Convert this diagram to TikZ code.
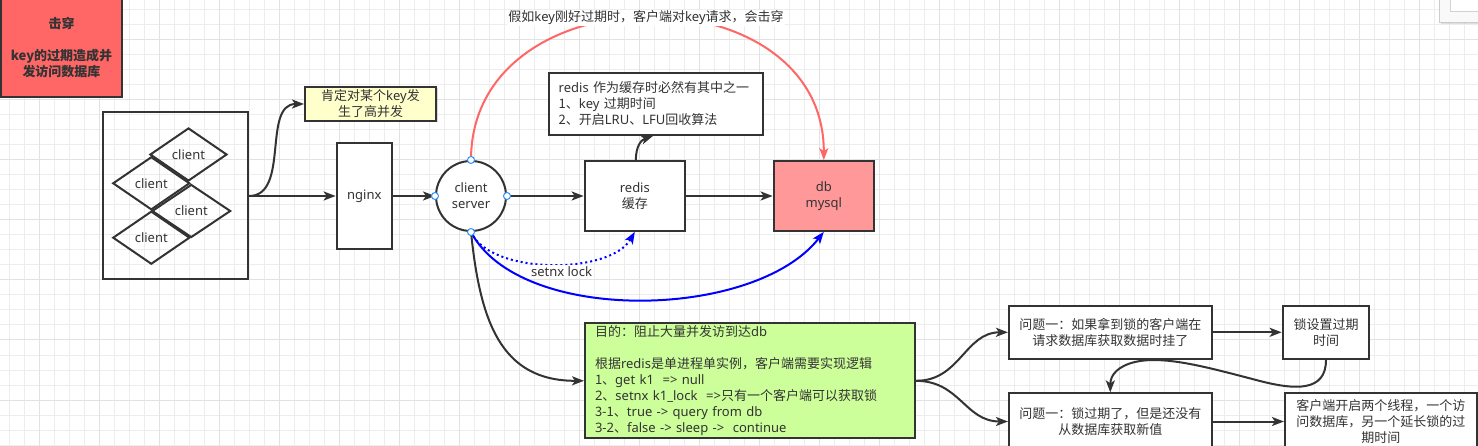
\documentclass[tikz,border=0pt]{standalone}
\usepackage{fontspec}
\setmainfont{Noto Sans}
\newfontfamily\cjkf{Noto Sans CJK SC}
\XeTeXinterchartokenstate=1
\newXeTeXintercharclass\cjkcls
\count255="3000
\loop
  \XeTeXcharclass\count255=\cjkcls
  \advance\count255 by 1
\ifnum\count255<"A000 \repeat
\count255="FF00
\loop
  \XeTeXcharclass\count255=\cjkcls
  \advance\count255 by 1
\ifnum\count255<"FFF0 \repeat
\XeTeXinterchartoks 0 \cjkcls = {\cjkf}
\XeTeXinterchartoks 4095 \cjkcls = {\cjkf}
\XeTeXinterchartoks \cjkcls 0 = {\rmfamily}
\usetikzlibrary{arrows.meta,shapes.geometric,shadows}
\definecolor{linec}{HTML}{333333}
\definecolor{redf}{HTML}{FF6666}
\definecolor{dbf}{HTML}{FF9999}
\definecolor{notef}{HTML}{FFFFCC}
\definecolor{greenf}{HTML}{CCFF99}
\definecolor{redl}{HTML}{FF6666}
\definecolor{bluel}{HTML}{0000FF}
\definecolor{gridminor}{HTML}{EDEDED}
\definecolor{gridmajor}{HTML}{E2E2E2}
\definecolor{mkc}{HTML}{2F8FFF}
\newcommand\myfs{\fontsize{13pt}{16pt}\selectfont}
\newcommand\titlefont{\fontsize{13pt}{16pt}\selectfont\bfseries\cjkf\XeTeXinterchartokenstate=0 }
\begin{document}
\begin{tikzpicture}[x=1pt,y=-1pt,
  ln/.style={draw=linec,line width=2pt},
  tipa/.style={-{Stealth[length=12pt,width=9pt,inset=3pt]}},
  arr/.style={ln,tipa},
  boxn/.style={ln,fill=white,text=linec,font=\myfs,align=center,inner sep=0pt},
  dia/.style={diamond,ln,text=linec,font=\myfs,minimum width=77pt,minimum height=53pt,inner sep=0pt},
  lbl/.style={fill=white,text=linec,font=\myfs,inner sep=1pt},
  mk/.style={circle,draw=mkc,line width=1pt,fill=white,minimum size=7pt,inner sep=0pt}
]
\useasboundingbox (0,0) rectangle (1478,446);
\fill[white] (0,0) rectangle (1478,446);
% grid
\foreach \i in {0,...,98} {\draw[gridminor,line width=1pt] (9.3+15*\i,0) -- (9.3+15*\i,446);}
\foreach \j in {0,...,29} {\draw[gridminor,line width=1pt] (0,10+15*\j) -- (1478,10+15*\j);}
\foreach \i in {0,...,23} {\draw[gridmajor,line width=1pt] (39.3+60*\i,0) -- (39.3+60*\i,446);}
\foreach \j in {0,...,6} {\draw[gridmajor,line width=1pt] (0,40+60*\j) -- (1478,40+60*\j);}

% UI panel top right
\draw[draw=gray!40,fill=gray!5,drop shadow={shadow xshift=1pt,shadow yshift=-2pt,opacity=0.25}] (1439.5,-10) rectangle (1490,22.5);
\draw[draw=gray!35,fill=white] (1450,-10) rectangle (1490,11.7);

% title box
\node[boxn,fill=redf,minimum width=121pt,minimum height=100pt,font=\titlefont] (title) at (61.5,47.5) {击穿\\[16pt]key的过期造成并\\发访问数据库};

% note
\node[boxn,fill=notef,minimum width=131pt,minimum height=34pt,drop shadow={shadow xshift=1.5pt,shadow yshift=-1.5pt,opacity=0.3}] (n1) at (370.5,104) {肯定对某个key发\\生了高并发};

% clients box
\node[ln,minimum width=145pt,minimum height=167pt,inner sep=0pt] (cl) at (175.5,196) {};
\node[dia] (c1) at (188.5,154.5) {client};
\node[dia] (c2) at (151.3,183.3) {client};
\node[dia,minimum width=78.7pt] (c3) at (191.3,211) {client};
\node[dia] (c4) at (151.3,237.7) {client};

\node[boxn,minimum width=55.3pt,minimum height=105.3pt] (ng) at (364.3,196) {nginx};
\node[circle,ln,fill=white,text=linec,font=\myfs,minimum size=70pt,inner sep=0pt,align=center] (cs) at (471,196) {client\\server};
\node[boxn,minimum width=100.3pt,minimum height=69.7pt] (rd) at (634.8,196) {redis\\缓存};
\node[boxn,fill=dbf,minimum width=100.3pt,minimum height=69.7pt] (db) at (823.8,196) {db\\mysql};
\node[boxn,align=left,text width=194.6pt,inner xsep=10pt,minimum height=62.3pt] (n2) at (656,103.8) {redis 作为缓存时必然有其中之一\\1、key 过期时间\\2、开启LRU、LFU回收算法};

\node[boxn,fill=greenf,align=left,text width=310pt,inner xsep=10pt,minimum height=115pt] (gr) at (750,380.8) {目的：阻止大量并发访到达db\\[16pt]根据redis是单进程单实例，客户端需要实现逻辑\\1、get k1\ \ => null\\2、setnx k1\_lock\ \ =>只有一个客户端可以获取锁\\3-1、true -> query from db\\3-2、false -> sleep ->\ \ continue};

\node[boxn,minimum width=202.7pt,minimum height=53.3pt] (p1) at (1110.3,332.3) {问题一：如果拿到锁的客户端在\\请求数据库获取数据时挂了};
\node[boxn,minimum width=86.7pt,minimum height=53.3pt] (lk) at (1326,332.3) {锁设置过期\\时间};
\node[boxn,minimum width=202.7pt,minimum height=56.3pt] (p2) at (1110.3,421.5) {问题一：锁过期了，但是还没有\\从数据库获取新值};
\node[boxn,minimum width=191.7pt,minimum height=56.3pt] (p3) at (1380.8,421.5) {客户端开启两个线程，一个访\\问数据库，另一个延长锁的过\\期时间};

% connectors
\draw[arr] (cl.east) -- (ng.west);
\draw[arr] (cl.east) .. controls (290,196) and (262,104) .. (n1.west);
\draw[arr] (ng.east) -- (cs.west);
\draw[arr] (cs.east) -- (rd.west);
\draw[arr] (rd.east) -- (db.west);
\draw[arr] ([xshift=1pt]rd.north) .. controls (636,146) and (641,140) .. ([xshift=-3pt]n2.south);

\draw[draw=redl,line width=2pt,tipa] (cs.north) .. controls (471,-30) and (824,-30) .. (db.north);
\node[lbl] (toplbl) at (646,18) {假如key刚好过期时，客户端对key请求，会击穿};

\draw[draw=bluel,line width=2pt,dash pattern=on 2pt off 3pt,tipa] (cs.south) .. controls (490,275) and (610,275) .. (rd.south);
\node[lbl] (setnx) at (561.5,271.5) {setnx lock};
\draw[draw=bluel,line width=2pt,tipa] (cs.south) .. controls (520,325) and (755,320) .. (db.south);

\draw[arr] (cs.south) .. controls (480,320) and (500,381) .. (gr.west);
\draw[arr] (gr.east) .. controls (960,381) and (965,332.3) .. (p1.west);
\draw[arr] (gr.east) .. controls (960,381) and (965,421.5) .. (p2.west);
\draw[arr] (p1.east) -- (lk.west);
\draw[arr] (p2.east) -- (p3.west);
\draw[arr] (lk.south) .. controls (1326,392) and (1295,390) .. (1260,381) .. controls (1210,368) and (1165,355) .. (1135,362) .. controls (1118,366) and (1110.3,375) .. (p2.north);

% connection markers
\foreach \a in {north,south,east,west} {\node[mk] at (cs.\a) {};}
\end{tikzpicture}
\end{document}
